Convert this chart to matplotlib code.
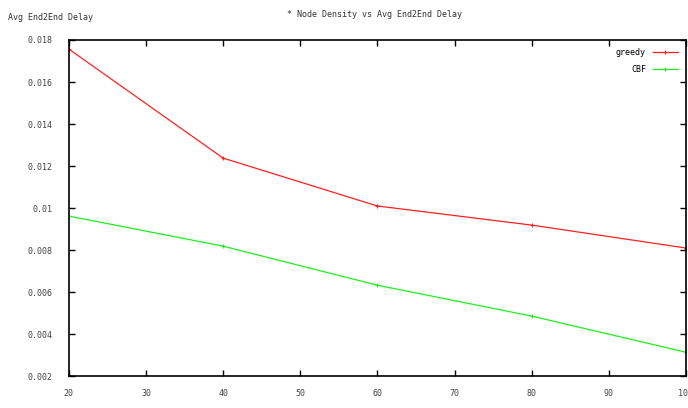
import matplotlib.pyplot as plt
from matplotlib.ticker import FuncFormatter

# node density
density = [20, 40, 60, 80, 100]
greedy = [0.01757, 0.01238, 0.01010, 0.00919, 0.00810]
cbf = [0.00962, 0.00819, 0.00633, 0.00486, 0.00314]

plt.rcParams['font.family'] = 'DejaVu Sans Mono'
plt.rcParams['font.size'] = 6

fig = plt.figure(figsize=(6.88, 4.08), dpi=100)
ax = fig.add_axes([0.100, 0.078, 0.897, 0.824])

ax.plot(density, greedy, color='#ff2020', lw=0.9, marker='+', ms=3, mew=0.8, label='greedy')
ax.plot(density, cbf, color='#20ee20', lw=0.9, marker='+', ms=3, mew=0.8, label='CBF')

ax.set_xlim(20, 100)
ax.set_ylim(0.002, 0.018)
ax.set_xticks(range(20, 101, 10))
ax.set_yticks([0.002, 0.004, 0.006, 0.008, 0.01, 0.012, 0.014, 0.016, 0.018])
ax.yaxis.set_major_formatter(FuncFormatter(lambda v, p: '%g' % v))
ax.tick_params(direction='in', top=True, right=True, length=4.5, width=1,
               labelsize=6, labelcolor='#444444', pad=9)
ax.tick_params(axis='y', pad=12)
for s in ax.spines.values():
    s.set_linewidth(1.2)

ax.legend(loc='upper right', frameon=False, markerfirst=False, handlelength=3,
          fontsize=6, borderaxespad=0.6, labelspacing=0.9)

fig.text(0.545, 0.965, '* Node Density vs Avg End2End Delay', ha='center', va='center',
         fontsize=6, color='#333333')
fig.text(0.012, 0.958, 'Avg End2End Delay', ha='left', va='center', fontsize=6, color='#333333')

fig.savefig('out.png', dpi=100)
